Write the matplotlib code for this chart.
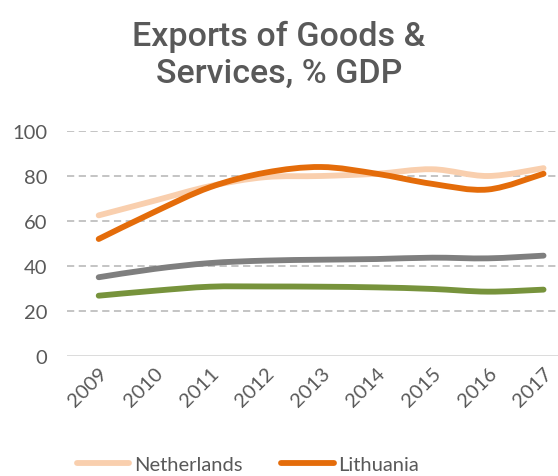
import numpy as np
import matplotlib
matplotlib.use("Agg")
import matplotlib.pyplot as plt
from matplotlib.path import Path
from matplotlib.patches import PathPatch
from matplotlib.lines import Line2D

# data
years = ["2009", "2010", "2011", "2012", "2013", "2014", "2015", "2016", "2017"]
netherlands = [62.5, 69, 75.5, 79.5, 80, 81, 83, 80, 83.5]
lithuania = [52, 64, 75, 81.5, 84, 81, 76.5, 74, 81]
grey_series = [35, 38.7, 41.3, 42.4, 42.8, 43.1, 43.7, 43.4, 44.6]
green_series = [26.8, 29, 30.8, 30.9, 30.8, 30.5, 29.8, 28.6, 29.5]

TEXT = "#595959"
C_NL = "#F9CFAE"
C_LT = "#E46C0A"
C_GREY = "#7F7F7F"
C_GREEN = "#77933C"


def smooth_path(x, y):
    """Excel-like smoothed line: Catmull-Rom style cubic Bezier segments."""
    pts = np.column_stack([x, y]).astype(float)
    n = len(pts)
    verts = [pts[0]]
    codes = [Path.MOVETO]
    for i in range(n - 1):
        p0 = pts[max(i - 1, 0)]
        p1 = pts[i]
        p2 = pts[i + 1]
        p3 = pts[min(i + 2, n - 1)]
        c1 = p1 + (p2 - p0) / 6.0
        c2 = p2 - (p3 - p1) / 6.0
        verts += [c1, c2, p2]
        codes += [Path.CURVE4] * 3
    return Path(verts, codes)


fig = plt.figure(figsize=(5.58, 4.77), dpi=100)
ax = fig.add_axes([67 / 558, 1 - 357 / 477, 1 - 67 / 558, 225 / 477])

x = np.arange(len(years))
for vals, col in [(green_series, C_GREEN), (grey_series, C_GREY),
                  (netherlands, C_NL), (lithuania, C_LT)]:
    patch = PathPatch(smooth_path(x, vals), fill=False, edgecolor=col,
                      lw=4.2, capstyle="round", joinstyle="round", zorder=3)
    ax.add_patch(patch)

ax.set_xlim(-0.57, 8.26)
ax.set_ylim(0, 100)
ax.set_yticks(range(0, 101, 20))
ax.set_xticks(x)
ax.set_xticklabels(years, rotation=45, ha="right", va="top",
                   rotation_mode="anchor")

for v in range(20, 101, 20):
    ax.axhline(v, color="#BFBFBF", lw=1.3, ls=(0, (4, 2.5)), zorder=1)
ax.axhline(0, color="#D9D9D9", lw=1.3, zorder=1)

for s in ax.spines.values():
    s.set_visible(False)
ax.tick_params(length=0, colors=TEXT)
ax.tick_params(axis="y", pad=14, labelsize=14.5)
ax.tick_params(axis="x", pad=6, labelsize=14.5)
for lab in ax.get_xticklabels() + ax.get_yticklabels():
    lab.set_fontfamily("Lato")

fig.text(0.5, 1 - 55 / 477, "Exports of Goods &\nServices, % GDP",
         ha="center", va="center", fontsize=24.5, color=TEXT,
         family="Roboto", fontweight="medium", linespacing=1.2)

handles = [Line2D([], [], color=C_NL, lw=4.2, solid_capstyle="round"),
           Line2D([], [], color=C_LT, lw=4.2, solid_capstyle="round")]
leg = fig.legend(handles, ["Netherlands", "Lithuania"], ncol=2,
                 loc="center left", bbox_to_anchor=(67 / 558, 1 - 465 / 477),
                 frameon=False, handlelength=2.6, handletextpad=0.25,
                 columnspacing=1.9, borderpad=0,
                 prop={"family": "Lato", "size": 14.5})
for t in leg.get_texts():
    t.set_color(TEXT)

fig.savefig("out.png", dpi=100)
